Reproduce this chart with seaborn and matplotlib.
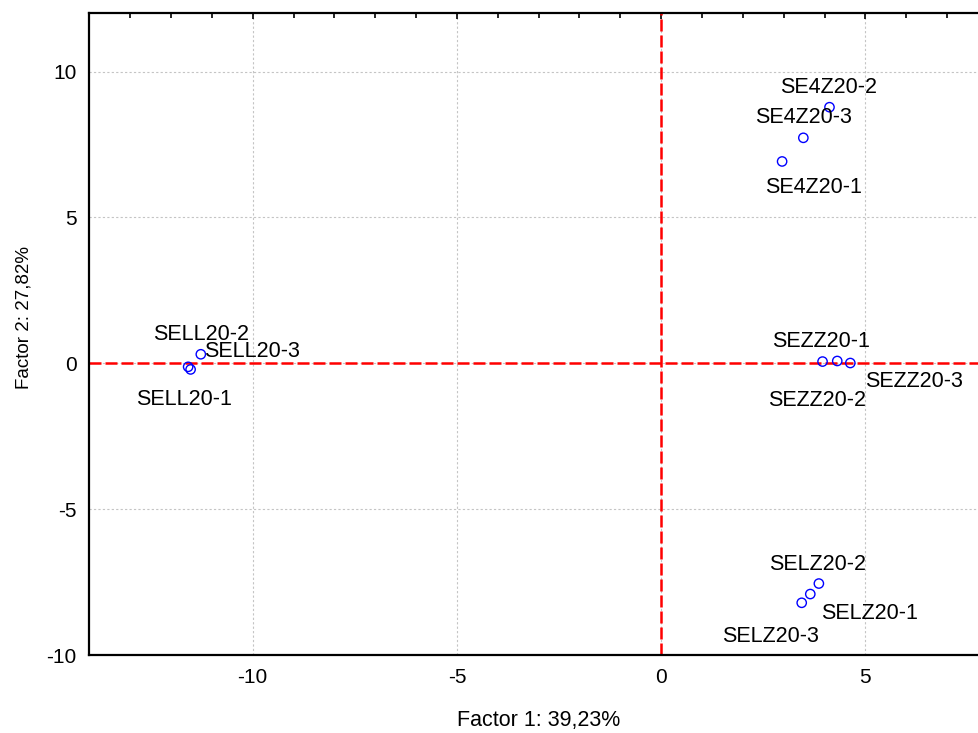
import matplotlib
matplotlib.use("Agg")
import matplotlib.pyplot as plt
import seaborn as sns
import pandas as pd
from matplotlib.ticker import MultipleLocator

# ---- data ----
labels = ["SE4Z20-1", "SE4Z20-2", "SE4Z20-3",
          "SELL20-1", "SELL20-2", "SELL20-3",
          "SEZZ20-1", "SEZZ20-2", "SEZZ20-3",
          "SELZ20-1", "SELZ20-2", "SELZ20-3"]
factor1 = [2.96, 4.12, 3.48,
           -11.52, -11.27, -11.58,
           3.95, 4.31, 4.63,
           3.65, 3.86, 3.44]
factor2 = [6.92, 8.78, 7.73,
           -0.21, 0.31, -0.12,
           0.06, 0.08, 0.01,
           -7.91, -7.55, -8.21]
xlabel = "Factor 1: 39,23%"
ylabel = "Factor 2: 27,82%"

# label placement (pixel offsets of label centre from its point)
label_dx = [31.8, -1, 0, -6.2, 0.3, 63.7, -1.8, -20, 63.8, 59.3, -1.3, -31]
label_dy = [-24.5, 21.2, 22.8, -28.3, 21.5, 17.5, 21.7, -37.7, -16.7, -17.5, 20.8, -31.3]

df = pd.DataFrame({"f1": factor1, "f2": factor2, "lab": labels})

sns.set_style("white")
plt.rcParams["font.family"] = ["Liberation Sans", "DejaVu Sans"]
plt.rcParams["axes.unicode_minus"] = False
plt.rcParams["text.color"] = "black"
plt.rcParams["axes.labelcolor"] = "black"
plt.rcParams["xtick.color"] = "black"
plt.rcParams["ytick.color"] = "black"

fig = plt.figure(figsize=(9.79, 7.33), dpi=100)
ax = fig.add_axes([0.0912, 0.1064, 0.9088, 0.8755])

# grid
ax.set_axisbelow(True)
ax.grid(True, which="major", color="#c4c4c4", linestyle=(0, (2, 2)), linewidth=0.8)

# zero lines
ax.axhline(0, color="#ff0000", linewidth=1.8, dashes=(4.8, 1.6), zorder=2)
ax.axvline(0, color="#ff0000", linewidth=1.8, dashes=(4.8, 1.6), zorder=2)

sns.scatterplot(data=df, x="f1", y="f2", ax=ax, marker="o", s=45,
                facecolors="none", edgecolor="#0000ff", linewidth=1.0,
                zorder=3, legend=False)

for lab, x, y, dx, dy in zip(labels, factor1, factor2, label_dx, label_dy):
    ax.annotate(lab, (x, y), xytext=(dx, dy - 7.5), textcoords="offset pixels",
                ha="center", va="baseline", fontsize=15.5, color="black", zorder=4)

ax.set_xlim(-14, 7.78)
ax.set_ylim(-10, 12)
ax.xaxis.set_major_locator(MultipleLocator(5))
ax.xaxis.set_minor_locator(MultipleLocator(1))
ax.yaxis.set_major_locator(MultipleLocator(5))
ax.yaxis.set_minor_locator(MultipleLocator(1))

ax.tick_params(which="both", direction="in", top=True, right=False,
               width=1.2, color="black")
ax.tick_params(which="major", length=4, labelsize=15, pad=9, labelcolor="black")
ax.tick_params(which="minor", length=3.5)

for sp in ax.spines.values():
    sp.set_linewidth(1.6)
    sp.set_color("black")
ax.spines["right"].set_visible(False)

ax.set_xlabel(xlabel, fontsize=15.5, color="black")
ax.set_ylabel(ylabel, fontsize=13.5, color="black")
ax.xaxis.label.set_va("baseline")
ax.xaxis.set_label_coords(0.5055, -0.1099)
ax.yaxis.label.set_va("center")
ax.yaxis.set_label_coords(-0.0734, 0.526)

fig.savefig("out.png", dpi=100)
